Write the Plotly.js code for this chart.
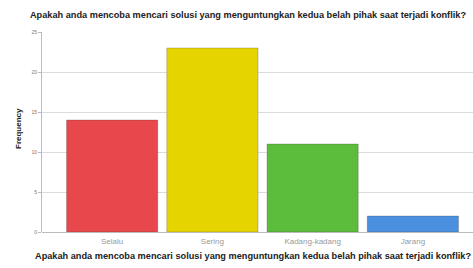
<!DOCTYPE html>
<html><head><meta charset="utf-8">
<script src="https://cdn.plot.ly/plotly-3.0.1.min.js"></script>
<style>html,body{margin:0;padding:0;background:#fff}#c{width:473px;height:268px}</style>
</head><body><div id="c"></div>
<script>
var categories = ["Selalu", "Sering", "Kadang-kadang", "Jarang"];
var frequencies = [14, 23, 11, 2];
var barColors = ["#e8474b", "#e5d400", "#5cbd3c", "#4a8fe0"];
var yTicks = [0, 5, 10, 15, 20, 25];
var titleText = "Apakah anda mencoba mencari solusi yang menguntungkan kedua belah pihak saat terjadi konflik?";

Plotly.newPlot("c", [{
  type: "bar", x: [0, 1, 2, 3], y: frequencies,
  marker: {color: barColors, line: {color: "rgba(60,60,60,0.45)", width: 0.6}},
  hoverinfo: "none"
}], {
  width: 473, height: 268,
  margin: {l: 42, r: 0, t: 32, b: 36},
  paper_bgcolor: "#fff", plot_bgcolor: "#fff",
  bargap: 0.09,
  showlegend: false,
  font: {family: "Liberation Sans, Arial, sans-serif", color: "#222"},
  title: {text: "<b>" + titleText + "</b>", font: {size: 9.2, color: "#222"}, x: 248 / 473, xref: "container", xanchor: "center", y: 1 - 15 / 268, yanchor: "middle"},
  annotations: [{
    text: "<b>" + titleText + "</b>", font: {size: 9.2, color: "#222"},
    xref: "paper", yref: "paper", x: (253 - 42) / 431, y: -(256 - 232) / 200,
    xanchor: "center", yanchor: "middle", showarrow: false
  }, {
    text: "<b>Frequency</b>", font: {size: 8, color: "#222"}, textangle: -90,
    xref: "paper", yref: "paper", x: -(42 - 18) / 431, y: (232 - 129) / 200,
    xanchor: "center", yanchor: "middle", showarrow: false
  }],
  xaxis: {
    range: [-0.7, 3.6], tickvals: [0, 1, 2, 3], ticktext: categories,
    tickfont: {size: 8, color: "#999"}, ticklabelstandoff: 3,
    showline: false, ticks: "", fixedrange: true, showgrid: false, zeroline: false
  },
  yaxis: {
    range: [0, 25], tickvals: yTicks, ticktext: yTicks.map(String),
    tickfont: {size: 5, color: "#777"},
    showgrid: true, gridcolor: "#dcdcdc", gridwidth: 1,
    showline: true, linecolor: "#bbb", linewidth: 1,
    ticks: "outside", ticklen: 3, tickcolor: "#bbb", zeroline: true, zerolinecolor: "#bbb"
  }
}, {staticPlot: true});
</script></body></html>
